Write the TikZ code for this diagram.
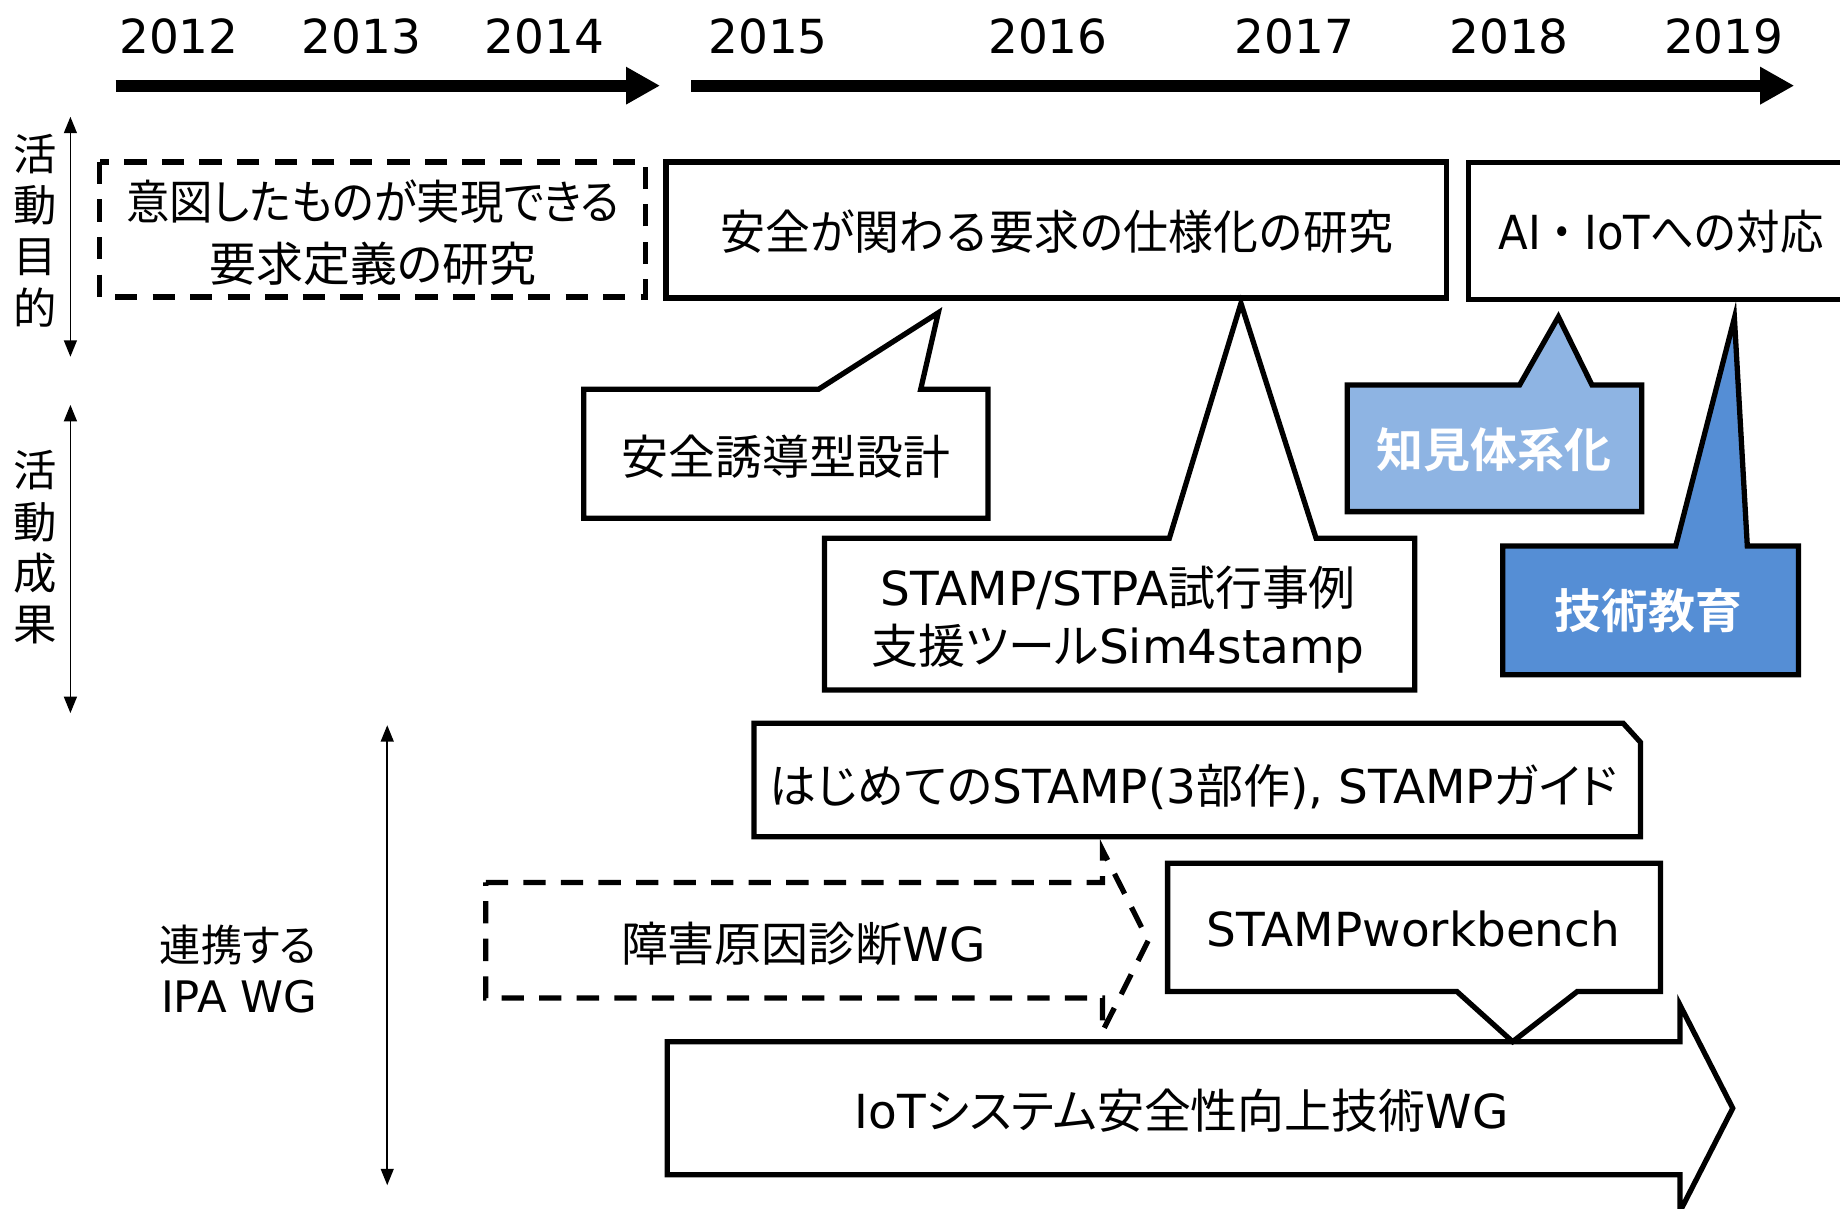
\documentclass[tikz,border=0pt]{standalone}
\usepackage{fontspec}
\usepackage{graphicx}
\setmainfont{DejaVu Sans}
\newfontfamily\jp[RawFeature=+palt,BoldFont={Noto Sans CJK JP Bold}]{Noto Sans CJK JP}
\newfontfamily\jpfull{Noto Sans CJK JP}
\usetikzlibrary{arrows.meta}
\definecolor{lightblu}{HTML}{8EB4E3}
\definecolor{midblu}{HTML}{558ED5}
\tikzset{
  frame/.style={draw=black, line width=4.5pt, fill=white, line join=miter},
  dframe/.style={frame, dash pattern=on 19pt off 13pt},
  txt/.style={inner sep=0pt, font=\fontsize{40}{48}\selectfont},
  jtxt/.style={inner sep=0pt, font=\fontsize{40}{48}\selectfont\jp},
  wtxt/.style={inner sep=0pt, text=white, font=\fontsize{40}{48}\selectfont\jp\bfseries},
  sidelabel/.style={inner sep=0pt, font=\fontsize{37}{43.7}\selectfont\jp, align=center},
  thinarrow/.style={line width=1.4pt, {Triangle[length=14pt,width=11pt]}-{Triangle[length=14pt,width=11pt]}},
  timearrow/.style={line width=10pt, -{Triangle[length=29pt,width=30pt]}},
}
\begin{document}
\begin{tikzpicture}[x=1pt,y=-1pt]
\useasboundingbox (0,0) rectangle (1568,1030);
\clip (0,0) rectangle (1568,1030);

% years
\node[txt,anchor=base] (y2012) at (152.5,45.5) {2012};
\node[txt,anchor=base] (y2013) at (308,45.5) {2013};
\node[txt,anchor=base] (y2014) at (464,45.5) {2014};
\node[txt,anchor=base] (y2015) at (654.5,45.5) {2015};
\node[txt,anchor=base] (y2016) at (893,45.5) {2016};
\node[txt,anchor=base] (y2017) at (1103,45.5) {2017};
\node[txt,anchor=base] (y2018) at (1286,45.5) {2018};
\node[txt,anchor=base] (y2019) at (1469,45.5) {2019};

% time arrows
\coordinate (ta1s) at (98.5,73);
\coordinate (ta1e) at (562.5,73);
\coordinate (ta2s) at (589,73);
\coordinate (ta2e) at (1529,73);
\draw[timearrow] (ta1s) -- (ta1e);
\draw[timearrow] (ta2s) -- (ta2e);

% side arrows and labels
\coordinate (sa1t) at (60,99.5);
\coordinate (sa1b) at (60,304);
\coordinate (sa2t) at (60,345);
\coordinate (sa2b) at (60,607.7);
\coordinate (sa3t) at (330,618);
\coordinate (sa3b) at (330,1010);
\draw[thinarrow] (sa1t) -- (sa1b);
\draw[thinarrow] (sa2t) -- (sa2b);
\draw[thinarrow] (sa3t) -- (sa3b);
\node[sidelabel] (lblpurpose) at (30,196.5) {活\\動\\目\\的};
\node[sidelabel] (lblresult) at (30,466.5) {活\\動\\成\\果};
\node[inner sep=0pt, anchor=base west, font=\fontsize{37}{44}\selectfont\jp] (lblwga) at (136,819) {\scalebox{0.95}[1]{連携する}};
\node[inner sep=0pt, anchor=base west, font=\fontsize{37}{44}\selectfont] (lblwgb) at (137,863) {IPA WG};

% purpose boxes
\draw[dframe] (85,138) rectangle (550,253);
\node[inner sep=0pt, align=center, font=\fontsize{40}{53}\selectfont\jp] (goal1) at (318,198) {\scalebox{0.925}[1]{意図したものが実現できる}\\要求定義の研究};
\draw[frame] (567.5,138) rectangle (1232.5,254);
\node[inner sep=0pt, anchor=base, font=\fontsize{40}{48}\selectfont\jpfull] (goal2) at (900.5,212.5) {\scalebox{0.955}[1]{安全が関わる要求の仕様化の研究}};
\draw[frame] (1251.5,138.5) rectangle (1620,255.5);
\node[txt,anchor=base] (goal3) at (1415.5,213) {\scalebox{0.925}[1]{AI{\jpfull ・}IoT{\jpfull への対応}}};

% result callouts
\draw[frame] (497.5,331.7) -- (697.6,331.7) -- (799.6,266.5) -- (784.6,331.7) -- (842,331.7) -- (842,441.6) -- (497.5,441.6) -- cycle;
\node[jtxt,anchor=base] (res1) at (670,404) {安全誘導型設計};

\draw[frame] (702.6,458.6) -- (996.5,458.6) -- (1057.5,258.5) -- (1121.5,458.6) -- (1205.6,458.6) -- (1205.6,588) -- (702.6,588) -- cycle;
\node[inner sep=0pt, align=center, font=\fontsize{40}{49.4}\selectfont] (res2) at (953,527.7) {STAMP/STPA{\jp 試行事例}\\{\jp 支援ツール}Sim4stamp};

\draw[frame, fill=lightblu] (1148,328) -- (1295,328) -- (1328,270) -- (1356.6,328) -- (1399,328) -- (1399,436) -- (1148,436) -- cycle;
\node[wtxt,anchor=base] (res3) at (1273,398) {知見体系化};

\draw[frame, fill=midblu] (1280.5,465.3) -- (1428,465.3) -- (1478,271) -- (1489,465.3) -- (1532.6,465.3) -- (1532.6,575) -- (1280.5,575) -- cycle;
\node[wtxt,anchor=base] (res4) at (1405,535.5) {技術教育};

% WG section
\draw[frame] (642.6,616.4) -- (1383.3,616.4) -- (1398,632.6) -- (1398,713) -- (642.6,713) -- cycle;
\node[txt,anchor=base] (wg1) at (1017,684.5) {{\jp はじめての}STAMP(3{\jp 部作}), STAMP{\jp ガイド}};

\draw[dframe] (414,752) -- (939.5,752) -- (939.5,724.3) -- (978.5,801.5) -- (939.5,879) -- (939.5,850.5) -- (414,850.5) -- cycle;
\node[txt,anchor=base] (wg2) at (684.5,819) {{\jp 障害原因診断}WG};

\draw[frame] (568.6,887.7) -- (1431.6,887.7) -- (1431.6,856.4) -- (1476.6,944.4) -- (1431.6,1032.4) -- (1431.6,1001) -- (568.6,1001) -- cycle;
\node[txt,anchor=base] (wg4) at (1007,961.5) {IoT{\jp システム安全性向上技術}WG};

\draw[frame] (995,735.6) -- (1415,735.6) -- (1415,845) -- (1344,845) -- (1289,887.7) -- (1241.6,845) -- (995,845) -- cycle;
\node[txt,anchor=base] (wg3) at (1204.6,806.7) {STAMPworkbench};
\end{tikzpicture}
\end{document}
